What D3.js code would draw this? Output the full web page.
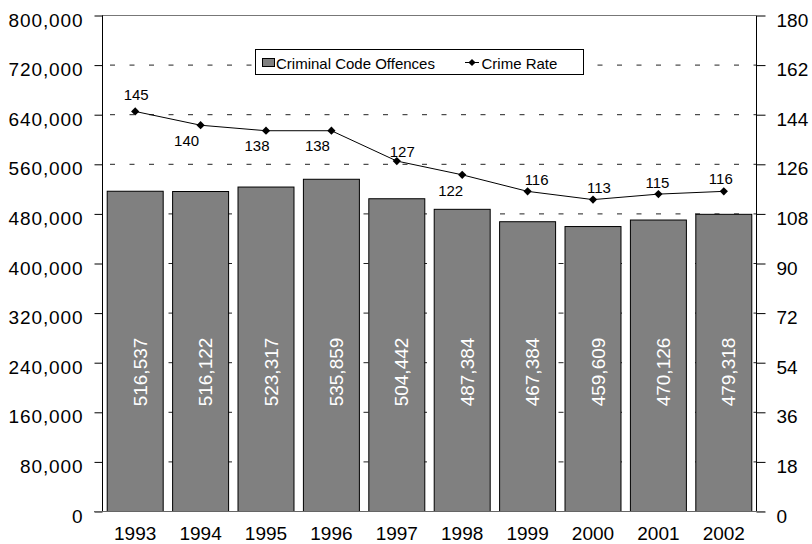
<!DOCTYPE html>
<html>
<head>
<meta charset="utf-8">
<script src="https://cdn.jsdelivr.net/npm/d3@7"></script>
<style>
  html, body { margin: 0; padding: 0; background: #fff; }
  svg { display: block; font-family: "Liberation Sans", Arial, sans-serif; }
</style>
</head>
<body>
<svg id="chart" width="812" height="544"></svg>
<script>
// ---- data ----
const years = ["1993","1994","1995","1996","1997","1998","1999","2000","2001","2002"];
const offences = [516537, 516122, 523317, 535859, 504442, 487384, 467384, 459609, 470126, 479318];
const crimeRate = [145, 140, 138, 138, 127, 122, 116, 113, 115, 116];
const leftTicks = [0, 80000, 160000, 240000, 320000, 400000, 480000, 560000, 640000, 720000, 800000];
const rightTicks = [0, 18, 36, 54, 72, 90, 108, 126, 144, 162, 180];
const seriesNames = ["Criminal Code Offences", "Crime Rate"];
// label placement offsets (dx, dy of baseline relative to marker)
const rateLabelOffsets = [[1,-11.5],[-14,20.5],[-9,20.5],[-14,20.5],[5.5,-4.5],[-11.5,21],[9,-6.5],[6,-6.3],[-1,-6],[-3,-7]];

const svg = d3.select("#chart");
const L = 102, R = 756, T = 15, B = 511;

const x = d3.scaleBand().domain(years).range([L, R]).paddingInner(0.144).paddingOuter(0.072);
const yL = d3.scaleLinear().domain([0, 800000]).range([B, T]);
const yR = d3.scaleLinear().domain([0, 180]).range([B, T]);
const fmt = d3.format(",");

// gridlines
svg.append("g").selectAll("line").data(leftTicks.filter(d => d > 0)).join("line")
  .attr("x1", L).attr("x2", R)
  .attr("y1", d => yL(d) + 0.5).attr("y2", d => yL(d) + 0.5)
  .attr("stroke", "#222").attr("stroke-width", 1)
  .attr("stroke-dasharray", "5,14.5").attr("stroke-dashoffset", -8);
// top border faint solid
svg.append("line").attr("x1", L).attr("x2", R).attr("y1", yL(800000)+0.5).attr("y2", yL(800000)+0.5)
  .attr("stroke", "#777").attr("stroke-width", 1);

// bars
svg.append("g").selectAll("rect").data(offences).join("rect")
  .attr("x", (d, i) => x(years[i]) + 0.5)
  .attr("y", d => yL(d) + 0.5)
  .attr("width", x.bandwidth())
  .attr("height", d => B - yL(d))
  .attr("fill", "#808080").attr("stroke", "#000").attr("stroke-width", 1);

// bar value labels (rotated)
svg.append("g").selectAll("text").data(offences).join("text")
  .attr("transform", (d, i) => `translate(${x(years[i]) + x.bandwidth()/2 + 12},372) rotate(-90)`)
  .attr("text-anchor", "middle")
  .attr("fill", "#fff").attr("font-size", 19)
  .text(d => fmt(d));

// axes
const axL = d3.axisLeft(yL).tickValues(leftTicks).tickSize(8).tickPadding(11).tickFormat(fmt);
const gL = svg.append("g").attr("transform", `translate(${L + 0.5},0.5)`).call(axL);
const axR = d3.axisRight(yR).tickValues(rightTicks).tickSize(9).tickPadding(11).tickFormat(d3.format("d"));
const gR = svg.append("g").attr("transform", `translate(${R + 0.5},0.5)`).call(axR);
[gL, gR].forEach(g => {
  g.select(".domain").attr("stroke", "#000");
  g.selectAll(".tick line").attr("stroke", "#000");
  g.selectAll(".tick text").attr("font-size", 19).attr("fill", "#000")
    .attr("font-family", "'Liberation Sans', Arial, sans-serif").attr("dy", "0.32em")
    .attr("y", 4.5);
});
gL.selectAll(".tick text").attr("letter-spacing", "0.9px");
gL.select(".domain").attr("d", `M0,${T}V${B}`);
gR.select(".domain").attr("d", `M0,${T}V${B}`);

// bottom axis line
svg.append("line").attr("x1", L - 8).attr("x2", R + 9).attr("y1", B + 0.5).attr("y2", B + 0.5)
  .attr("stroke", "#666").attr("stroke-width", 1);

// x labels
svg.append("g").selectAll("text").data(years).join("text")
  .attr("x", d => x(d) + x.bandwidth()/2 + 0.5)
  .attr("y", 540)
  .attr("text-anchor", "middle").attr("font-size", 19).attr("fill", "#000")
  .text(d => d);

// crime rate line
const cx = i => x(years[i]) + x.bandwidth()/2 + 0.5;
const line = d3.line().x((d, i) => cx(i)).y(d => yR(d));
svg.append("path").datum(crimeRate).attr("d", line)
  .attr("fill", "none").attr("stroke", "#000").attr("stroke-width", 1);
svg.append("g").selectAll("path").data(crimeRate).join("path")
  .attr("d", d3.symbol().type(d3.symbolSquare).size(34))
  .attr("transform", (d, i) => `translate(${cx(i)},${yR(d)}) rotate(45)`)
  .attr("fill", "#000");
svg.append("g").selectAll("text").data(crimeRate).join("text")
  .attr("x", (d, i) => cx(i) + rateLabelOffsets[i][0])
  .attr("y", (d, i) => yR(d) + rateLabelOffsets[i][1])
  .attr("text-anchor", "middle").attr("font-size", 15).attr("fill", "#000")
  .text(d => d);

// legend
const lg = svg.append("g").attr("transform", "translate(255,49)");
lg.append("rect").attr("x", 0.5).attr("y", 0.5).attr("width", 328).attr("height", 25)
  .attr("fill", "#fff").attr("stroke", "#000");
lg.append("rect").attr("x", 7.5).attr("y", 9.5).attr("width", 12).attr("height", 8)
  .attr("fill", "#808080").attr("stroke", "#000");
lg.append("text").attr("x", 21).attr("y", 20).attr("font-size", 15).text(seriesNames[0]);
lg.append("line").attr("x1", 210).attr("x2", 224).attr("y1", 13.5).attr("y2", 13.5).attr("stroke", "#000");
lg.append("path").attr("d", d3.symbol().type(d3.symbolSquare).size(26))
  .attr("transform", "translate(217,13.5) rotate(45)").attr("fill", "#000");
lg.append("text").attr("x", 226.5).attr("y", 20).attr("font-size", 15).text(seriesNames[1]);
</script>
</body>
</html>
